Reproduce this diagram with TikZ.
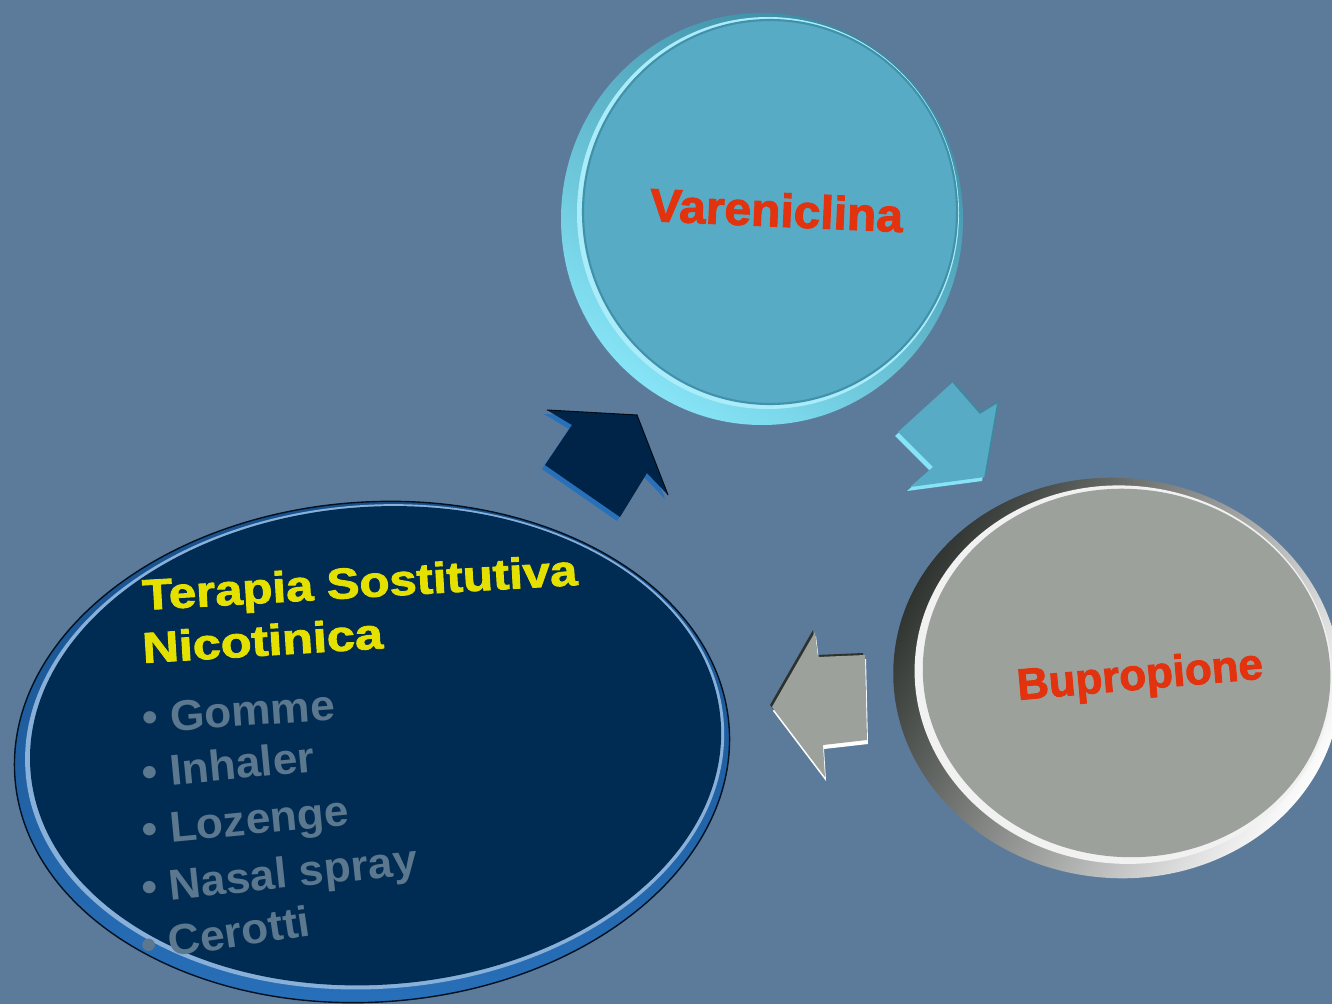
\documentclass[tikz,border=0pt]{standalone}
\usepackage{fontspec}
\setmainfont{Liberation Sans}
\newfontfamily\heavyfont[BoldFeatures={FakeBold=2}]{Liberation Sans}
\definecolor{bg}{RGB}{92,123,155}
\definecolor{cyanface}{RGB}{88,171,197}
\definecolor{cyanrimL}{RGB}{134,228,246}
\definecolor{cyanrimD}{RGB}{58,138,162}
\definecolor{grayface}{RGB}{157,161,156}
\definecolor{grayrimD}{RGB}{45,50,46}
\definecolor{navyface}{RGB}{0,43,83}
\definecolor{navyrimT}{RGB}{24,80,138}
\definecolor{navyrimB}{RGB}{40,112,186}
\definecolor{redtxt}{RGB}{226,50,14}
\definecolor{yeltxt}{RGB}{228,224,0}
\definecolor{graytxt}{RGB}{92,120,142}
\tikzset{
  label/.style={inner sep=0pt, font=\bfseries},
  redlbl/.style={label, text=redtxt, font=\fontsize{26.5}{30}\selectfont\heavyfont\bfseries},
  ttl/.style={label, text=yeltxt, anchor=base west, font=\fontsize{24.5}{29}\selectfont\heavyfont\bfseries},
  bul/.style={label, text=graytxt, anchor=base west, font=\fontsize{24.5}{29}\selectfont\bfseries},
}
\begin{document}
\begin{tikzpicture}[x=0.02cm,y=-0.02cm]
\fill[bg] (0,0) rectangle (1332,1004);
\useasboundingbox (0,0) rectangle (1332,1004);
\clip (0,0) rectangle (1332,1004);

% ---------- Vareniclina disc ----------
\shade[top color=cyanrimD, bottom color=cyanrimL, shading angle=-35]
  (762,219) ellipse [x radius=201, y radius=206];
\fill[cyanrimL!70!white] (768,213) ellipse [x radius=191, y radius=196];
\fill[cyanface] (770,212) ellipse [x radius=187, y radius=192];
\draw[cyanrimD!80!cyanface, line width=1.2pt] (770,212) ellipse [x radius=187, y radius=192];

% ---------- Bupropione disc ----------
\begin{scope}[rotate around={-6:(1117,678)}]
\shade[left color=grayrimD, right color=white, shading angle=60]
  (1117,678) ellipse [x radius=224, y radius=200];
\fill[white!85!grayface] (1123,674) ellipse [x radius=209, y radius=189];
\fill[grayface] (1126,672) ellipse [x radius=204, y radius=184];
\end{scope}

% ---------- Navy ellipse ----------
\begin{scope}[rotate around={4:(372,752)}]
\shade[top color=navyrimT, bottom color=navyrimB]
  (372,752) ellipse [x radius=358, y radius=250];
\draw[black!60!navyface, line width=0.8pt] (372,752) ellipse [x radius=358, y radius=250];
\fill[navyrimB!55!white] (375,747) ellipse [x radius=350, y radius=242];
\fill[navyface] (376,746) ellipse [x radius=346, y radius=239];
\end{scope}

% ---------- Arrows ----------
% navy arrow (to Vareniclina)
\fill[navyrimB] ([shift={(-3,4)}]547,410) -- ([shift={(-3,4)}]637,415) -- ([shift={(-3,4)}]668,495) -- ([shift={(-3,4)}]647,473)
  -- ([shift={(-3,4)}]620,517) -- ([shift={(-3,4)}]545,465) -- ([shift={(-3,4)}]572,425) -- cycle;
\fill[navyface!85!black] (547,410) -- (637,415) -- (668,495) -- (647,473) -- (620,517) -- (545,465) -- (572,425) -- cycle;
\draw[black!70!navyface, line width=0.6pt] (547,410) -- (637,415) -- (668,495);

% cyan arrow (to Bupropione)
\fill[cyanrimL] ([shift={(-3,4)}]953,382) -- ([shift={(-3,4)}]980,413) -- ([shift={(-3,4)}]998,402) -- ([shift={(-3,4)}]985,477)
  -- ([shift={(-3,4)}]910,487) -- ([shift={(-3,4)}]933,467) -- ([shift={(-3,4)}]898,432) -- cycle;
\fill[cyanface] (953,382) -- (980,413) -- (998,402) -- (985,477) -- (910,487) -- (933,467) -- (898,432) -- cycle;
\draw[cyanrimD, line width=0.8pt] (953,382) -- (980,413) -- (998,402) -- (985,477);

% gray arrow (to navy ellipse)
\fill[grayrimD] ([shift={(-2,-2)}]815,632) -- ([shift={(-2,-2)}]818,657) -- ([shift={(-2,-2)}]865,655) -- ([shift={(-2,-2)}]867,740)
  -- ([shift={(-2,-2)}]823,745) -- ([shift={(-2,-2)}]825,777) -- ([shift={(-2,-2)}]772,707) -- cycle;
\fill[white] ([shift={(1,4)}]815,632) -- ([shift={(1,4)}]818,657) -- ([shift={(1,4)}]865,655) -- ([shift={(1,4)}]867,740)
  -- ([shift={(1,4)}]823,745) -- ([shift={(1,4)}]825,777) -- ([shift={(1,4)}]772,707) -- cycle;
\fill[grayface] (815,632) -- (818,657) -- (865,655) -- (867,740) -- (823,745) -- (825,777) -- (772,707) -- cycle;

% ---------- Texts ----------
\node[redlbl, anchor=base west, rotate=-2.5] (vtext) at (649,221) {\scalebox{1.03}[1]{Vareniclina}};
\node[redlbl, anchor=base west, rotate=5, font=\fontsize{25}{30}\selectfont\heavyfont\bfseries] (btext) at (1018,700) {Bupropione};

\node[ttl, rotate=3.3] (title1) at (143,610) {\scalebox{1.14}[1]{Terapia Sostitutiva}};
\node[ttl, rotate=3.5] (title2) at (143,663) {\scalebox{1.17}[1]{Nicotinica}};

\node[bul, rotate=4] (b1) at (143,733) {\scalebox{1.03}[1]{• Gomme}};
\node[bul, rotate=5.5] (b2) at (143,788) {\scalebox{1.03}[1]{• Inhaler}};
\node[bul, rotate=5.5] (b3) at (143,845) {\scalebox{1.03}[1]{• Lozenge}};
\node[bul, rotate=6] (b4) at (143,903) {\scalebox{1.03}[1]{• Nasal spray}};
\node[bul, rotate=8.5] (b5) at (143,961) {\scalebox{1.03}[1]{• Cerotti}};
\end{tikzpicture}
\end{document}
